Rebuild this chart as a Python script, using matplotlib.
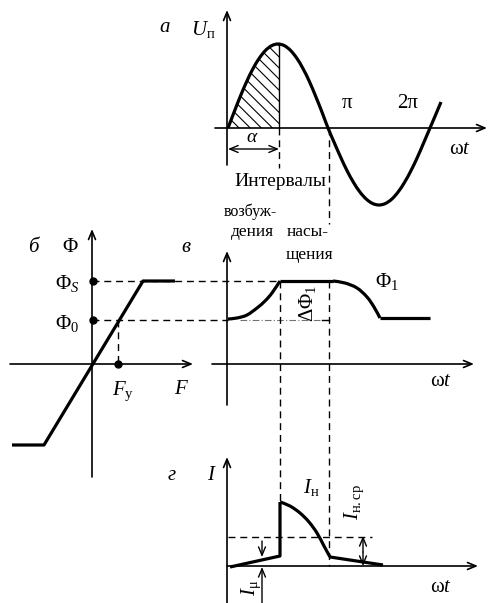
import numpy as np
import matplotlib.pyplot as plt
from matplotlib.path import Path
from matplotlib.patches import PathPatch

plt.rcParams['font.family'] = 'Liberation Serif'
plt.rcParams['mathtext.fontset'] = 'custom'
plt.rcParams['mathtext.rm'] = 'Liberation Serif'
plt.rcParams['mathtext.it'] = 'Liberation Serif:italic'
plt.rcParams['hatch.linewidth'] = 0.8

# supply voltage U_п(ωt), one period and a bit
u_x = [228, 234.3, 240.5, 246.8, 253, 259.3, 265.5, 271.8, 278, 284.3, 290.5, 296.8, 303,
       309.3, 315.5, 321.8, 328, 334.4, 340.8, 347.1, 353.5, 359.9, 366.3, 372.6, 379,
       385.4, 391.8, 398.1, 404.5, 410.9, 417.3, 423.6, 430, 436.4, 441]
u_y = [128, 111.6, 95.9, 81.3, 68.6, 58.2, 50.4, 45.6, 44, 45.6, 50.4, 58.2, 68.6,
       81.3, 95.9, 111.6, 128, 143, 157.5, 170.8, 182.4, 192, 199.1, 203.5, 205,
       203.5, 199.1, 192, 182.4, 170.8, 157.5, 143, 128, 113, 102]
alpha_end = 8   # index of the firing point (peak)

# magnetisation curve Φ(F)
bh_x = [12, 44, 143, 175]
bh_y = [445, 445, 281, 281]

# flux Φ1(ωt): rising part, saturation, falling part, rest
phi_rise_x = [228, 237, 247, 257, 265, 272, 280]
phi_rise_y = [319, 318, 315, 308, 301, 293, 281]
phi_fall_x = [333, 345, 357, 367, 374, 380]
phi_fall_y = [281, 283, 288, 297, 307, 318]
phi_end_x = 430

# load current I(ωt)
i_mu_x, i_mu_y = [230, 280], [567, 556]
i_pulse_x = [280, 290, 300, 309, 317, 324, 330]
i_pulse_y = [502, 506, 513, 522, 533, 546, 557]
i_tail_x, i_tail_y = [330, 383], [557, 565]

phi_s, phi_0, f_y = 281, 320, 118
i_avg = 537

fig = plt.figure(figsize=(4.88, 6.03), dpi=100)
ax = fig.add_axes([0, 0, 1, 1])
ax.set_xlim(0, 488)
ax.set_ylim(603, 0)
ax.axis('off')


def smooth_path(xs, ys):
    # Catmull-Rom through the given points, as cubic Bezier segments
    p = np.column_stack([xs, ys]).astype(float)
    ext = np.vstack([p[0], p, p[-1]])
    verts, codes = [p[0]], [Path.MOVETO]
    for i in range(1, len(ext) - 2):
        p0, p1, p2, p3 = ext[i - 1], ext[i], ext[i + 1], ext[i + 2]
        verts += [p1 + (p2 - p0) / 6, p2 - (p3 - p1) / 6, p2]
        codes += [Path.CURVE4] * 3
    return verts, codes


def draw_smooth(xs, ys, lw=2.3):
    verts, codes = smooth_path(xs, ys)
    ax.add_patch(PathPatch(Path(verts, codes), fc='none', ec='k', lw=lw,
                           capstyle='butt', joinstyle='round'))


def arrow(x0, y0, x1, y1, style='->', lw=1.2):
    ax.annotate('', xy=(x1, y1), xytext=(x0, y0),
                arrowprops=dict(arrowstyle=style + ',head_length=0.6,head_width=0.25',
                                lw=lw, color='k', shrinkA=0, shrinkB=0))


def dash(xs, ys, lw=1.0, color='k'):
    ax.plot(xs, ys, color=color, lw=lw, linestyle=(0, (5, 3.5)))


curve = dict(color='k', lw=2.3, solid_capstyle='butt', solid_joinstyle='round')

# --- а: supply voltage
arrow(227, 165, 227, 10)
arrow(215, 128, 487, 128)
draw_smooth(u_x, u_y)
hv, hc = smooth_path(u_x[:alpha_end + 1], u_y[:alpha_end + 1])
hv = hv + [(279, 44), (279, 128), (u_x[0], 128), (u_x[0], 128)]
hc = hc + [Path.LINETO, Path.LINETO, Path.LINETO, Path.CLOSEPOLY]
ax.add_patch(PathPatch(Path(hv, hc), fc='none', ec='k', lw=0, hatch='\\\\\\'))
ax.plot([279, 279], [44, 128], color='k', lw=1.0)
arrow(228, 149, 279, 149, style='<->', lw=1.0)
dash([279, 279], [128, 168])
dash([329, 329], [128, 224])

# --- б: magnetisation curve
arrow(92, 477, 92, 229)
arrow(10, 364, 193, 364)
ax.plot(bh_x, bh_y, **curve)
dash([92, 280], [phi_s, phi_s])
dash([92, 228], [phi_0, phi_0])
dash([f_y, f_y], [phi_0, 364])
ax.plot([93, 93, f_y], [phi_s, phi_0, 364], 'o', color='k', ms=5)

# --- в: flux
arrow(227, 405, 227, 251)
arrow(212, 364, 474, 364)
draw_smooth(phi_rise_x, phi_rise_y)
ax.plot([phi_rise_x[-1], phi_fall_x[0]], [phi_s, phi_s], **curve)
draw_smooth(phi_fall_x, phi_fall_y)
ax.plot([phi_fall_x[-1], phi_end_x], [phi_fall_y[-1]] * 2, **curve)
ax.plot([240, 329], [phi_0, phi_0], color='0.45', lw=0.8, linestyle=(0, (6, 2, 1, 2)))
ax.plot([322, 329], [phi_0, phi_0], color='k', lw=1.0)
dash([280, 280], [phi_s, 502])
dash([329, 329], [phi_s, 566])

# --- г: load current
arrow(227, 603, 227, 457)
arrow(227, 566, 478, 566)
ax.plot(i_mu_x + [i_pulse_x[0]], i_mu_y + [i_pulse_y[0]], **curve)
draw_smooth(i_pulse_x, i_pulse_y)
ax.plot(i_tail_x, i_tail_y, **curve)
dash([228, 372], [i_avg, i_avg])
arrow(363, 552, 363, i_avg - 1, lw=1.0)
arrow(363, 552, 363, 566, lw=1.0)
arrow(262, 541, 262, 557, lw=1.0)
arrow(262, 603, 262, 567, lw=1.0)

# labels
fs = 15
ax.text(165, 28, 'а', fontsize=fs, style='italic', ha='center', va='center')
ax.text(191, 29, r'$U_{\mathrm{п}}$', fontsize=fs, ha='left', va='center')
ax.text(347, 103, 'π', fontsize=fs, ha='center', va='center')
ax.text(408, 103, '2π', fontsize=fs, ha='center', va='center')
ax.text(460, 150, r'$\mathrm{ω}t$', fontsize=fs, ha='center', va='center')
ax.text(252, 138, r'$α$', fontsize=14, ha='center', va='center')
ax.text(280, 182, 'Интервалы', fontsize=14, ha='center', va='center')
ax.text(250, 212, 'возбуж-', fontsize=11.5, ha='center', va='center')
ax.text(252, 232, 'дения', fontsize=12.5, ha='center', va='center')
ax.text(308, 232, 'насы-', fontsize=12.5, ha='center', va='center')
ax.text(309, 255, 'щения', fontsize=12.5, ha='center', va='center')

ax.text(33, 247, 'б', fontsize=fs, style='italic', ha='center', va='center')
ax.text(70, 248, 'Φ', fontsize=fs, ha='center', va='center')
ax.text(67, 284, r'$\mathrm{Φ}_S$', fontsize=fs, ha='center', va='center')
ax.text(67, 323, r'$\mathrm{Φ}_0$', fontsize=fs, ha='center', va='center')
ax.text(123, 391, r'$F_{\mathrm{у}}$', fontsize=fs, ha='center', va='center')
ax.text(182, 390, r'$F$', fontsize=fs, ha='center', va='center')

ax.text(186, 247, 'в', fontsize=fs, style='italic', ha='center', va='center')
ax.text(387, 282, r'$\mathrm{Φ}_1$', fontsize=fs, ha='center', va='center')
ax.text(308, 303, r'$\mathrm{ΔΦ}_1$', fontsize=fs, ha='center', va='center', rotation=90)
ax.text(441, 381, r'$\mathrm{ω}t$', fontsize=fs, ha='center', va='center')

ax.text(172, 475, 'г', fontsize=fs, style='italic', ha='center', va='center')
ax.text(212, 475, r'$I$', fontsize=fs, ha='center', va='center')
ax.text(311, 487, r'$I_{\mathrm{н}}$', fontsize=fs, ha='center', va='center')
ax.text(354, 502, r'$I_{\mathrm{н.ср}}$', fontsize=fs, ha='center', va='center', rotation=90)
ax.text(251, 588, r'$I_{\mathrm{μ}}$', fontsize=fs, ha='center', va='center', rotation=90)
ax.text(441, 588, r'$\mathrm{ω}t$', fontsize=fs, ha='center', va='center')

fig.savefig('out.png', dpi=100)
